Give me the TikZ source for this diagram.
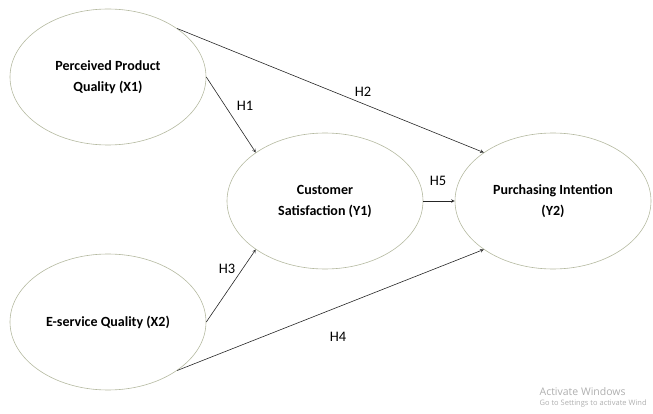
\documentclass[tikz,border=0pt]{standalone}
\usepackage{fontspec}
\setmainfont{Carlito}
\newfontfamily\winfont{Open Sans}
\usetikzlibrary{shapes.geometric}
\definecolor{rim}{RGB}{180,185,160}
\definecolor{wmark}{RGB}{175,175,175}

\begin{document}
\begin{tikzpicture}[x=1pt, y=-1pt, >=stealth, line width=0.6pt,
    construct/.style={draw=rim, ellipse, minimum width=196pt, minimum height=136pt,
        inner sep=0pt, align=center, font=\fontsize{14}{21}\selectfont\bfseries},
    hyp/.style={font=\fontsize{14.5}{16}\selectfont},
    path/.style={->, draw=black!85}]
    \useasboundingbox (0,0) rectangle (653,414);
    % constructs
    \node[construct] (x1) at (108,77) {Perceived Product\\Quality (X1)};
    \node[construct] (x2) at (108,322) {E-service Quality (X2)};
    \node[construct] (y1) at (325,201) {Customer\\Satisfaction (Y1)};
    \node[construct] (y2) at (553,201) {Purchasing Intention\\(Y2)};
    % hypotheses
    \draw[path] (x1.east) -- (y1.145);
    \draw[path] (x1.35) -- (y2.145);
    \draw[path] (x2.east) -- (y1.215);
    \draw[path] (x2.-35) -- (y2.215);
    \draw[path] (y1.east) -- (y2.west);
    \node[hyp] (h1) at (245,106) {H1};
    \node[hyp] (h2) at (363,92) {H2};
    \node[hyp] (h3) at (227,269) {H3};
    \node[hyp] (h4) at (338,337) {H4};
    \node[hyp] (h5) at (438,181) {H5};
    % watermark
    \node[anchor=west, text=wmark, font=\winfont\fontsize{10.5}{13}\selectfont] (act) at (536,392) {Activate Windows};
    \node[anchor=west, text=wmark, font=\winfont\fontsize{7.5}{9}\selectfont] (go) at (536,404) {Go to Settings to activate Wind};
\end{tikzpicture}
\end{document}
